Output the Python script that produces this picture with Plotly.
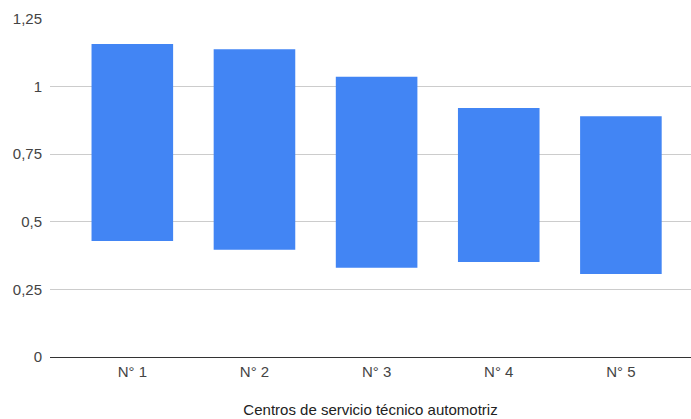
import plotly.graph_objects as go

categories = ["N° 1", "N° 2", "N° 3", "N° 4", "N° 5"]
low_values = [0.429, 0.397, 0.330, 0.351, 0.307]
high_values = [1.158, 1.138, 1.036, 0.921, 0.890]
y_tick_values = [0, 0.25, 0.5, 0.75, 1, 1.25]
y_tick_labels = ["0", "0,25", "0,5", "0,75", "1", "1,25"]
x_title = "Centros de servicio técnico automotriz"

fig = go.Figure()
fig.add_trace(go.Bar(
    x=categories,
    y=[h - l for h, l in zip(high_values, low_values)],
    base=low_values,
    width=0.668,
    marker=dict(color="#4285F4", line=dict(width=0)),
    hoverinfo="skip",
))

fig.update_layout(
    width=691, height=419,
    margin=dict(l=50, r=0, t=19, b=62, pad=0),
    paper_bgcolor="white", plot_bgcolor="white",
    showlegend=False,
    font=dict(family="Liberation Sans, Arial, sans-serif", size=15, color="#444444"),
    xaxis=dict(
        type="category",
        range=[-0.674, 4.574],
        showgrid=False,
        showline=False,
        zeroline=False,
        ticks="",
        ticklabelstandoff=4,
        tickfont=dict(size=15, color="#444444"),
        title=dict(text=x_title, font=dict(size=15, color="#222222"), standoff=25),
    ),
    yaxis=dict(
        range=[0, 1.25],
        tickvals=y_tick_values,
        ticktext=y_tick_labels,
        showgrid=True,
        gridcolor="#cccccc",
        gridwidth=1,
        zeroline=True,
        zerolinecolor="#333333",
        zerolinewidth=1,
        showline=False,
        ticks="",
        ticklabelstandoff=7,
        tickfont=dict(size=15, color="#444444"),
    ),
)

fig.write_html("out.html")
